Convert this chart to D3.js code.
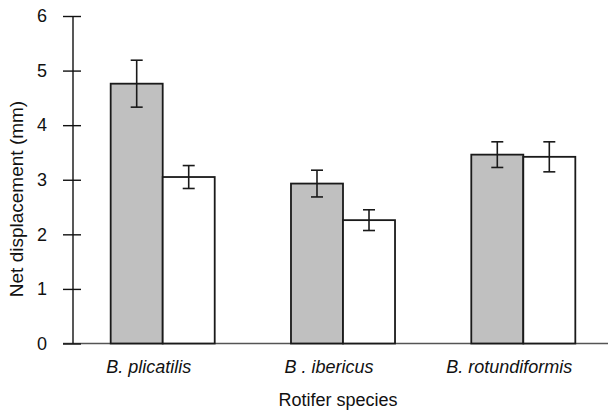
<!DOCTYPE html>
<html>
<head>
<meta charset="utf-8">
<script src="https://cdn.jsdelivr.net/npm/d3@7"></script>
<style>
  html, body { margin: 0; padding: 0; background: #fff; }
  svg { display: block; font-family: "Liberation Sans", Arial, sans-serif; }
</style>
</head>
<body>
<svg id="chart" width="608" height="412"></svg>
<script>
// Species on the x axis
const categories = ["B. plicatilis", "B . ibericus", "B. rotundiformis"];
// Two series per species: grey bars and white bars
const seriesKeys = ["grey", "white"];
const greyValues = [4.76, 2.93, 3.46];
const greyErrors = [0.43, 0.245, 0.235];
const whiteValues = [3.05, 2.26, 3.42];
const whiteErrors = [0.21, 0.19, 0.275];
const yTicks = [0, 1, 2, 3, 4, 5, 6];

const rows = categories.map((c, i) => ({
  category: c,
  values: [
    { key: "grey", value: greyValues[i], err: greyErrors[i] },
    { key: "white", value: whiteValues[i], err: whiteErrors[i] }
  ]
}));

const svg = d3.select("#chart");
const axisX = 73, baseY = 343.5, topY = 16;

const y = d3.scaleLinear().domain([0, 6]).range([baseY, topY]);
const x0 = d3.scaleBand().domain(categories).range([axisX, 613])
  .paddingInner(0.423).paddingOuter(0.209);
const x1 = d3.scaleBand().domain(seriesKeys).range([0, x0.bandwidth()]);
const fill = d3.scaleOrdinal().domain(seriesKeys).range(["#c0c0c0", "#ffffff"]);

// x baseline
svg.append("line")
  .attr("x1", 63).attr("x2", 608)
  .attr("y1", baseY).attr("y2", baseY)
  .attr("stroke", "#555").attr("stroke-width", 1.6);

// y axis
const yAxis = svg.append("g")
  .attr("transform", `translate(${axisX},0)`)
  .call(d3.axisLeft(y).tickValues(yTicks).tickSize(0).tickPadding(26).tickFormat(d3.format("d")));
yAxis.select(".domain").remove();
yAxis.selectAll(".tick text")
  .attr("font-size", 18).attr("fill", "#111")
  .attr("font-family", "Liberation Sans, Arial, sans-serif");
yAxis.selectAll(".tick").append("line")
  .attr("x1", -10).attr("x2", 8)
  .attr("stroke", "#111").attr("stroke-width", 1.4);
svg.append("line")
  .attr("x1", axisX).attr("x2", axisX)
  .attr("y1", topY).attr("y2", baseY)
  .attr("stroke", "#111").attr("stroke-width", 1.4);

// bars
const groups = svg.selectAll("g.group").data(rows).join("g")
  .attr("class", "group")
  .attr("transform", d => `translate(${x0(d.category)},0)`);

groups.selectAll("rect").data(d => d.values).join("rect")
  .attr("x", d => x1(d.key))
  .attr("y", d => y(d.value))
  .attr("width", x1.bandwidth())
  .attr("height", d => y(0) - y(d.value))
  .attr("fill", d => fill(d.key))
  .attr("stroke", "#1a1a1a").attr("stroke-width", 1.8);

// error bars
const capHalf = 6;
const eb = groups.selectAll("g.err").data(d => d.values).join("g")
  .attr("class", "err")
  .attr("stroke", "#1a1a1a").attr("stroke-width", 1.6);
eb.append("line")
  .attr("x1", d => x1(d.key) + x1.bandwidth() / 2)
  .attr("x2", d => x1(d.key) + x1.bandwidth() / 2)
  .attr("y1", d => y(d.value + d.err))
  .attr("y2", d => y(d.value - d.err));
eb.append("line")
  .attr("x1", d => x1(d.key) + x1.bandwidth() / 2 - capHalf)
  .attr("x2", d => x1(d.key) + x1.bandwidth() / 2 + capHalf)
  .attr("y1", d => y(d.value + d.err))
  .attr("y2", d => y(d.value + d.err));
eb.append("line")
  .attr("x1", d => x1(d.key) + x1.bandwidth() / 2 - capHalf)
  .attr("x2", d => x1(d.key) + x1.bandwidth() / 2 + capHalf)
  .attr("y1", d => y(d.value - d.err))
  .attr("y2", d => y(d.value - d.err));

// species labels
svg.selectAll("text.species").data(categories).join("text")
  .attr("class", "species")
  .attr("x", d => x0(d) + x0.bandwidth() / 2 - 14)
  .attr("y", 373)
  .attr("text-anchor", "middle")
  .attr("font-size", 18)
  .attr("font-style", "italic")
  .attr("fill", "#111")
  .text(d => d);

// axis titles
svg.append("text")
  .attr("x", 338).attr("y", 406)
  .attr("text-anchor", "middle")
  .attr("font-size", 18).attr("fill", "#111")
  .text("Rotifer species");

svg.append("text")
  .attr("transform", "translate(23,199) rotate(-90)")
  .attr("text-anchor", "middle")
  .attr("font-size", 19).attr("fill", "#111")
  .text("Net displacement (mm)");
</script>
</body>
</html>
